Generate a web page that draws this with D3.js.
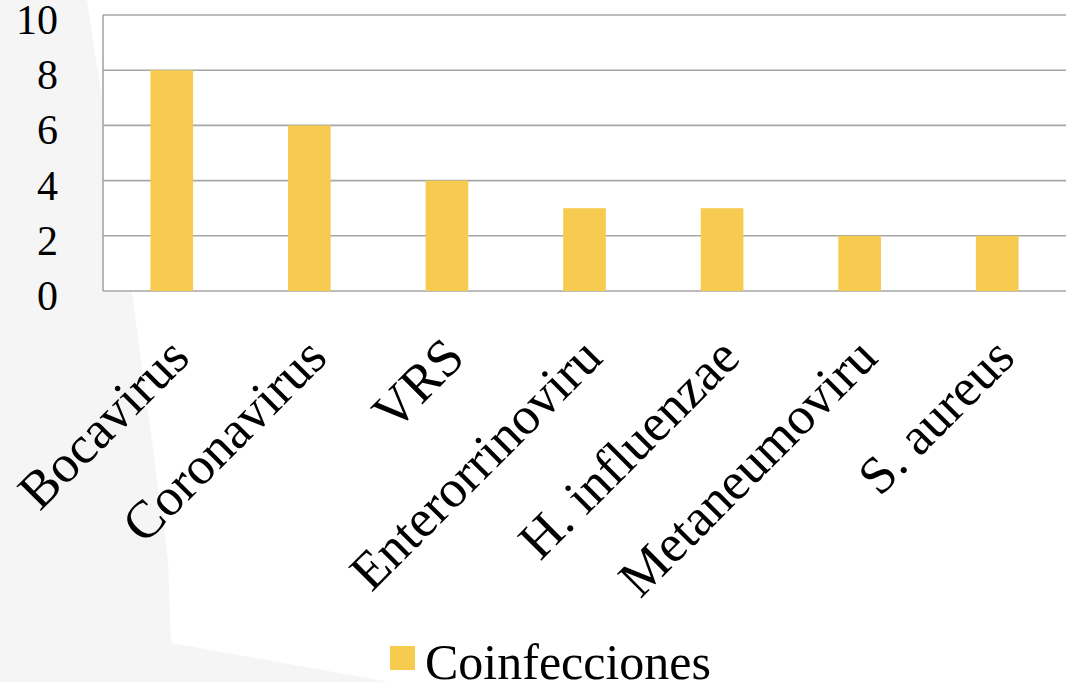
<!DOCTYPE html>
<html>
<head>
<meta charset="utf-8">
<script src="https://cdn.jsdelivr.net/npm/d3@7"></script>
<style>
  html, body { margin: 0; padding: 0; background: #ffffff; }
  svg { display: block; }
</style>
</head>
<body>
<script>
// Data
const categories = ['Bocavirus', 'Coronavirus', 'VRS', 'Enterorrinoviru', 'H. influenzae', 'Metaneumoviru', 'S. aureus'];
const values = [8, 6, 4, 3, 3, 2, 2];
const yTicks = [0, 2, 4, 6, 8, 10];
const seriesName = 'Coinfecciones';

const width = 1068, height = 682;
const margin = { top: 15, right: 2, bottom: 391, left: 103 };

let svg = d3.select('body').append('svg')
  .attr('width', width)
  .attr('height', height);

// slide background shape
svg.append('path')
  .attr('d', 'M0,0 L87,0 L133,300 L168,560 L171,643 L390,682 L0,682 Z')
  .attr('fill', '#f5f5f5');

let x = d3.scaleBand()
  .domain(categories)
  .range([margin.left, width - margin.right])
  .paddingInner(0.69)
  .paddingOuter(0.345);

let y = d3.scaleLinear()
  .domain([0, 10])
  .range([height - margin.bottom, margin.top]);

// plot area
svg.append('rect')
  .attr('x', margin.left)
  .attr('y', margin.top)
  .attr('width', width - margin.left - margin.right)
  .attr('height', y(0) - margin.top)
  .attr('fill', '#ffffff');

// gridlines
svg.append('g')
  .selectAll('line')
  .data(yTicks)
  .enter()
  .append('line')
  .attr('x1', margin.left)
  .attr('x2', width - margin.right)
  .attr('y1', d => y(d))
  .attr('y2', d => y(d))
  .attr('stroke', '#a6a6a6')
  .attr('stroke-width', 1.6);

svg.append('line')
  .attr('x1', margin.left)
  .attr('x2', margin.left)
  .attr('y1', y(10))
  .attr('y2', y(0))
  .attr('stroke', '#a6a6a6')
  .attr('stroke-width', 1.6);

// y labels
svg.append('g')
  .selectAll('text')
  .data(yTicks)
  .enter()
  .append('text')
  .attr('x', 58)
  .attr('y', d => y(d) + 19)
  .attr('text-anchor', 'end')
  .attr('font-family', 'Liberation Serif, serif')
  .attr('font-size', 42)
  .attr('fill', '#000')
  .text(d => d);

// bars
svg.append('g')
  .selectAll('rect')
  .data(values)
  .enter()
  .append('rect')
  .attr('x', (d, i) => x(categories[i]))
  .attr('y', d => y(d))
  .attr('width', x.bandwidth())
  .attr('height', d => y(0) - y(d))
  .attr('fill', '#f7ca50');

// category labels
svg.append('g')
  .selectAll('text')
  .data(categories)
  .enter()
  .append('text')
  .attr('transform', d => `translate(${x(d) + x.bandwidth() / 2 + 20},360) rotate(-45)`)
  .attr('text-anchor', 'end')
  .attr('font-family', 'Liberation Serif, serif')
  .attr('font-size', 53)
  .attr('fill', '#000')
  .text(d => d);

// legend
let legend = svg.append('g');
legend.append('rect')
  .attr('x', 390)
  .attr('y', 646)
  .attr('width', 25)
  .attr('height', 24)
  .attr('fill', '#f7ca50');
legend.append('text')
  .attr('x', 425)
  .attr('y', 679)
  .attr('font-family', 'Liberation Serif, serif')
  .attr('font-size', 50)
  .attr('fill', '#000')
  .text(seriesName);
</script>
</body>
</html>
